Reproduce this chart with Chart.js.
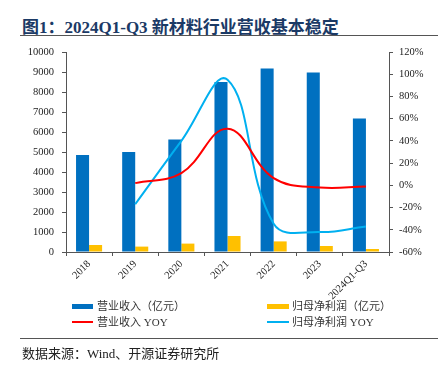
<!DOCTYPE html>
<html><head><meta charset="utf-8">
<script src="https://cdn.jsdelivr.net/npm/chart.js@4/dist/chart.umd.min.js"></script>
<style>
html,body{margin:0;padding:0;background:#fff;width:438px;height:375px;overflow:hidden;position:relative;font-family:"Liberation Serif","Noto Sans CJK SC",serif;}
#title{position:absolute;left:22px;top:13px;font-size:17px;font-weight:bold;color:#1b3a66;white-space:nowrap;}
.hr{position:absolute;left:20px;width:418px;height:0;border-top:1.5px solid #555;}
#wrap{position:absolute;left:0;top:0;width:438px;height:310px;}
.leg{position:absolute;font-size:11px;color:#333;white-space:nowrap;line-height:14px;}
.sw{position:absolute;}
#src{position:absolute;left:22px;top:343px;font-size:13px;color:#222;white-space:nowrap;}
</style></head><body>
<div id="title">图1：2024Q1-Q3 新材料行业营收基本稳定</div>
<div class="hr" style="top:35px"></div>
<div id="wrap"><canvas id="c" width="438" height="310"></canvas></div>
<div class="sw" style="left:72px;top:304px;width:21px;height:5px;background:#0070C0"></div>
<div class="leg" style="left:97px;top:299px">营业收入（亿元）</div>
<div class="sw" style="left:267px;top:304px;width:22px;height:5px;background:#FFC000"></div>
<div class="leg" style="left:292px;top:299px">归母净利润（亿元）</div>
<div class="sw" style="left:72px;top:321px;width:21px;height:2px;background:#FF0000"></div>
<div class="leg" style="left:97px;top:315px">营业收入 YOY</div>
<div class="sw" style="left:267px;top:321px;width:22px;height:2px;background:#00B0F0"></div>
<div class="leg" style="left:292px;top:315px">归母净利润 YOY</div>
<div class="hr" style="top:338px"></div>
<div id="src">数据来源：Wind、开源证券研究所</div>
<script>
const categories = ["2018","2019","2020","2021","2022","2023","2024Q1-Q3"];
const revenue = [4850, 5000, 5630, 8500, 9170, 8980, 6680];
const netProfit = [350, 270, 420, 800, 530, 300, 150];
const revenueYoY = [null, 2, 11, 51, 6.5, -2, -1];
const profitYoY = [null, -17, 40, 95, -34.5, -42, -37];
const leftTicks = [0,1000,2000,3000,4000,5000,6000,7000,8000,9000,10000];
const rightTicks = [-60,-40,-20,0,20,40,60,80,100,120];

const tickFont = {family:"Liberation Serif", size:10.5};
new Chart(document.getElementById('c'), {
  data: {
    labels: categories,
    datasets: [
      {type:'line', label:'营业收入 YOY', data: revenueYoY, yAxisID:'y1', borderColor:'#FF0000', borderWidth:2, pointRadius:0, tension:0.4, order:0},
      {type:'line', label:'归母净利润 YOY', data: profitYoY, yAxisID:'y1', borderColor:'#00B0F0', borderWidth:2, pointRadius:0, tension:0.4, order:0},
      {type:'bar', label:'营业收入（亿元）', data: revenue, yAxisID:'y', backgroundColor:'#0070C0', barPercentage:1, categoryPercentage:0.565, order:1},
      {type:'bar', label:'归母净利润（亿元）', data: netProfit, yAxisID:'y', backgroundColor:'#FFC000', barPercentage:1, categoryPercentage:0.565, order:1}
    ]
  },
  options: {
    responsive:false, animation:false,
    layout:{padding:{top:52, left:0, right:0, bottom:0}},
    plugins:{legend:{display:false}, tooltip:{enabled:false}},
    scales:{
      x:{
        offset:true,
        grid:{offset:true, drawOnChartArea:false, drawTicks:true, tickLength:4, color:'#555'},
        border:{color:'#555', width:1},
        ticks:{font:tickFont, color:'#222', minRotation:45, maxRotation:45, padding:2},
        afterFit: s => { s.height = 58; }
      },
      y:{
        position:'left', min:0, max:10000,
        afterBuildTicks: s => { s.ticks = leftTicks.map(v=>({value:v})); },
        grid:{drawOnChartArea:false, drawTicks:true, tickLength:4, color:'#555'},
        border:{color:'#555', width:1},
        ticks:{font:tickFont, color:'#222', padding:8, callback: v => String(v)},
        afterFit: s => { s.width = 66; }
      },
      y1:{
        position:'right', min:-60, max:120,
        afterBuildTicks: s => { s.ticks = rightTicks.map(v=>({value:v})); },
        grid:{drawOnChartArea:false, drawTicks:true, tickLength:4, color:'#555'},
        border:{color:'#555', width:1},
        ticks:{font:tickFont, color:'#222', padding:6, callback: v => v + '%'},
        afterFit: s => { s.width = 49; }
      }
    }
  }
});
</script>
</body></html>
